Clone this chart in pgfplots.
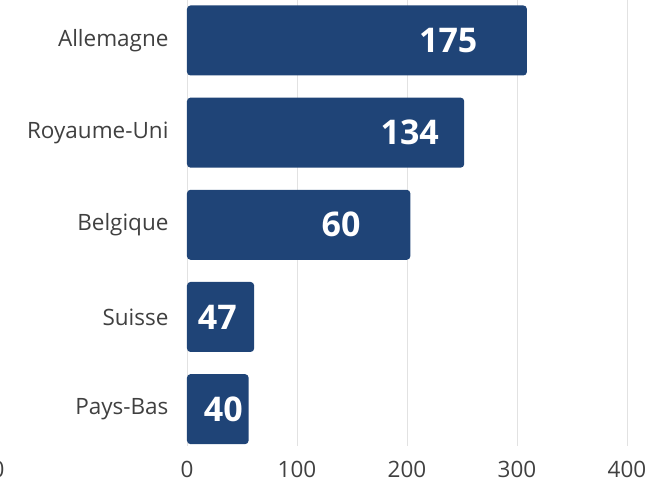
\documentclass[border=0pt]{standalone}
\usepackage{pgfplots}
\pgfplotsset{compat=1.18}
\usepackage{fontspec}
\setmainfont{Open Sans}
\definecolor{barblue}{HTML}{1F4477}
\definecolor{txtgray}{HTML}{404040}
\definecolor{gridgray}{HTML}{E2E2E2}
\begin{document}
\begin{tikzpicture}
\path[use as bounding box] (-187pt,-38pt) rectangle (463pt,446pt);
\begin{axis}[
  at={(0,0)}, anchor=south west,
  scale only axis,
  width=440pt, height=447pt,
  xmin=0, xmax=400,
  ymin=-0.45, ymax=4.4,
  y dir=reverse,
  axis line style={draw=none},
  major tick length=0pt,
  xtick={0,100,200,300,400},
  xmajorgrids,
  grid style={gridgray, line width=0.8pt},
  ytick={0,1,2,3,4},
  yticklabels={Allemagne, Royaume-Uni\ , Belgique, Suisse, Pays-Bas},
  yticklabel style={font=\fontsize{22.5}{26}\selectfont, text=txtgray, xshift=-15pt},
  xticklabel style={font=\fontsize{22.5}{26}\selectfont, text=txtgray, yshift=-12pt},
  /pgf/number format/assume math mode=true,
  clip=false,
]
\addplot[xbar, bar width=70pt, fill=barblue, draw=none, rounded corners=3.5pt]
  coordinates {(309,0) (252,1) (203,2) (61,3) (56,4)};
\addplot[draw=none, mark=none, nodes near coords, point meta=explicit symbolic,
  every node near coord/.style={anchor=center, text=white, font=\fontsize{34}{38}\selectfont\bfseries}]
  table[meta=lab] {
x y lab
237.5 0 175
202.5 1 134
140 2 60
27.5 3 47
33 4 40
};
\end{axis}
\node[anchor=base east, font=\fontsize{22.5}{26}\selectfont, text=txtgray] at (-179pt,-32pt) {100};
\end{tikzpicture}
\end{document}
